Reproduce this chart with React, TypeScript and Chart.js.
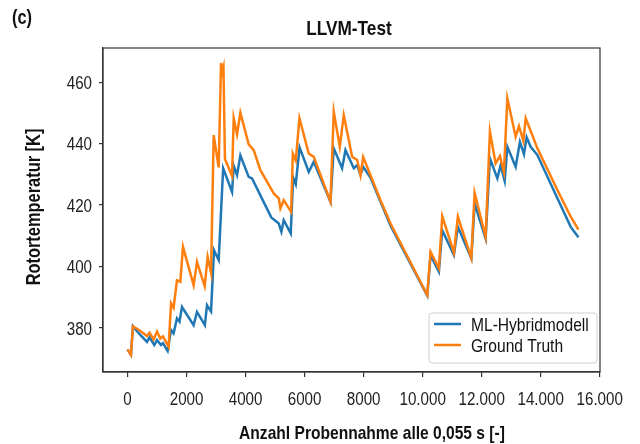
import { useEffect, useRef } from 'react';
import { Chart, registerables } from 'chart.js';

Chart.register(...registerables);

const seriesNames = ['ML-Hybridmodell', 'Ground Truth'];
const seriesColors = ['#1f77b4', '#ff7f0e'];

const mlX = [0, 115, 183, 400, 658, 746, 906, 997, 1133, 1200, 1357, 1473, 1560, 1675, 1760, 1845, 2239, 2353, 2620, 2692, 2829, 2930, 3088, 3240, 3541, 3597, 3710, 3823, 4105, 4219, 4870, 5124, 5214, 5292, 5530, 5611, 5700, 5830, 6140, 6310, 6876, 6988, 7270, 7385, 7667, 7782, 7894, 7985, 8230, 8911, 10156, 10268, 10550, 10665, 11059, 11194, 11649, 11761, 12134, 12280, 12531, 12643, 12779, 12870, 13152, 13297, 13433, 13524, 13660, 13888, 14566, 15017, 15280];
const mlY = [373.0, 371.2, 380.5, 378.0, 375.4, 376.9, 374.4, 376.0, 374.4, 375.0, 372.5, 379.3, 378.2, 383.1, 382.0, 386.8, 380.9, 385.2, 380.9, 387.4, 385.3, 405.3, 402.1, 432.0, 424.3, 432.8, 429.8, 436.2, 429.2, 428.7, 416.0, 414.0, 411.3, 415.1, 410.8, 429.0, 426.8, 438.8, 430.8, 434.1, 421.1, 438.5, 432.0, 437.9, 432.0, 433.0, 429.8, 432.5, 429.0, 413.3, 390.5, 403.7, 398.3, 411.8, 403.7, 412.9, 402.6, 420.5, 409.1, 435.2, 428.7, 433.0, 427.9, 439.0, 432.5, 440.6, 436.6, 442.1, 439.0, 436.3, 422.2, 412.9, 409.5];

const gtX = [0, 115, 183, 400, 658, 746, 882, 1000, 1109, 1200, 1392, 1473, 1560, 1675, 1788, 1878, 2239, 2353, 2613, 2715, 2829, 2919, 3088, 3168, 3210, 3250, 3300, 3541, 3597, 3710, 3823, 4105, 4274, 4502, 4954, 5124, 5180, 5292, 5543, 5600, 5700, 5825, 6140, 6310, 6876, 6988, 7192, 7327, 7612, 7782, 7894, 7985, 8572, 8911, 10156, 10268, 10550, 10665, 11059, 11194, 11649, 11761, 12134, 12280, 12473, 12619, 12755, 12870, 13152, 13263, 13413, 13491, 13684, 13888, 14566, 15017, 15280];
const gtY = [373.0, 371.2, 380.5, 379.2, 377.3, 378.4, 376.2, 378.8, 376.5, 377.2, 373.8, 388.0, 386.5, 395.5, 395.0, 406.4, 393.9, 401.5, 393.6, 403.1, 398.0, 442.8, 432.3, 466.3, 463.5, 465.0, 435.0, 429.5, 448.3, 443.0, 450.1, 439.8, 437.9, 431.4, 423.8, 422.2, 418.9, 421.6, 417.8, 436.8, 434.5, 448.3, 436.8, 435.7, 421.1, 450.4, 439.0, 449.3, 435.7, 434.7, 429.8, 435.7, 421.6, 414.0, 390.7, 404.8, 399.4, 416.4, 404.5, 416.2, 402.8, 424.0, 409.7, 443.9, 433.6, 436.0, 430.8, 454.8, 442.3, 445.7, 440.9, 448.3, 443.6, 438.5, 424.9, 416.2, 412.0];

const xTicks = [0, 2000, 4000, 6000, 8000, 10000, 12000, 14000, 16000];
const xTickLabels = ['0', '2000', '4000', '6000', '8000', '10.000', '12.000', '14.000', '16.000'];
const yTicks = [380, 400, 420, 440, 460];
const yTickLabels = ['380', '400', '420', '440', '460'];

const chartTitle = 'LLVM-Test';
const panelLabel = '(c)';
const xTitle = 'Anzahl Probennahme alle 0,055 s [-]';
const yTitle = 'Rotortemperatur [K]';

const FONT = '"Liberation Sans", Arial, sans-serif';
const NARROW = 0.82;

function narrowText(
  ctx: CanvasRenderingContext2D,
  text: string,
  x: number,
  y: number,
  font: string,
  align: CanvasTextAlign,
  color: string,
  rotate = false
) {
  ctx.save();
  ctx.translate(x, y);
  if (rotate) ctx.rotate(-Math.PI / 2);
  ctx.scale(NARROW, 1);
  ctx.font = font;
  ctx.textAlign = align;
  ctx.textBaseline = 'alphabetic';
  ctx.fillStyle = color;
  ctx.fillText(text, 0, 0);
  ctx.restore();
}

const decorPlugin = {
  id: 'decor',
  afterDatasetsDraw(chart: any) {
    const { ctx, chartArea: a, scales } = chart;
    ctx.save();
    // frame
    ctx.strokeStyle = '#333';
    ctx.lineWidth = 1.2;
    ctx.strokeRect(a.left, a.top, a.right - a.left, a.bottom - a.top);

    // tick labels through the scales
    const xs = scales.x;
    const ys = scales.y;
    xTicks.forEach((v, i) => {
      narrowText(ctx, xTickLabels[i], xs.getPixelForValue(v), a.bottom + 33, `18.5px ${FONT}`, 'center', '#222');
    });
    yTicks.forEach((v, i) => {
      narrowText(ctx, yTickLabels[i], a.left - 11, ys.getPixelForValue(v) + 6.7, `18.5px ${FONT}`, 'right', '#222');
    });

    // titles
    narrowText(ctx, chartTitle, 349, 35, `bold 21px ${FONT}`, 'center', '#111');
    narrowText(ctx, panelLabel, 12, 24, `bold 20px ${FONT}`, 'left', '#111');
    narrowText(ctx, xTitle, 372, 439, `bold 19px ${FONT}`, 'center', '#111');
    narrowText(ctx, yTitle, 40, (a.top + a.bottom) / 2 - 3, `bold 20px ${FONT}`, 'center', '#111', true);

    // legend
    const w = 168, h = 50;
    const lx = a.right - 3 - w, ly = a.bottom - 9 - h;
    ctx.beginPath();
    const r = 3;
    ctx.moveTo(lx + r, ly);
    ctx.lineTo(lx + w - r, ly);
    ctx.quadraticCurveTo(lx + w, ly, lx + w, ly + r);
    ctx.lineTo(lx + w, ly + h - r);
    ctx.quadraticCurveTo(lx + w, ly + h, lx + w - r, ly + h);
    ctx.lineTo(lx + r, ly + h);
    ctx.quadraticCurveTo(lx, ly + h, lx, ly + h - r);
    ctx.lineTo(lx, ly + r);
    ctx.quadraticCurveTo(lx, ly, lx + r, ly);
    ctx.closePath();
    ctx.fillStyle = 'rgba(255,255,255,0.85)';
    ctx.fill();
    ctx.strokeStyle = '#d0d0d0';
    ctx.lineWidth = 1;
    ctx.stroke();

    seriesNames.forEach((name, i) => {
      const yy = ly + 11 + i * 21;
      ctx.strokeStyle = seriesColors[i];
      ctx.lineWidth = 2.5;
      ctx.beginPath();
      ctx.moveTo(lx + 5, yy);
      ctx.lineTo(lx + 32, yy);
      ctx.stroke();
      narrowText(ctx, name, lx + 42, yy + 6.8, `19px ${FONT}`, 'left', '#111');
    });
    ctx.restore();
  },
};

export default function App() {
  const ref = useRef<HTMLCanvasElement>(null);

  useEffect(() => {
    document.body.style.margin = '0';
    const canvas = ref.current;
    if (!canvas) return;
    const mk = (xs: number[], ys: number[]) => xs.map((x, i) => ({ x, y: ys[i] }));
    const chart = new Chart(canvas, {
      type: 'line',
      data: {
        datasets: [
          {
            label: seriesNames[0],
            data: mk(mlX, mlY),
            borderColor: seriesColors[0],
            backgroundColor: seriesColors[0],
            borderWidth: 2.5,
            pointRadius: 0,
            tension: 0,
            order: 1,
          },
          {
            label: seriesNames[1],
            data: mk(gtX, gtY),
            borderColor: seriesColors[1],
            backgroundColor: seriesColors[1],
            borderWidth: 2.5,
            pointRadius: 0,
            tension: 0,
            order: 0,
          },
        ],
      },
      options: {
        responsive: false,
        animation: false,
        devicePixelRatio: 1,
        layout: { padding: { left: 20, top: 48, right: 40, bottom: 0 } },
        plugins: {
          legend: { display: false },
          tooltip: { enabled: false },
          title: { display: false },
        },
        scales: {
          x: {
            type: 'linear',
            min: -832,
            max: 16010,
            afterBuildTicks: (s: any) => {
              s.ticks = xTicks.map((v) => ({ value: v }));
            },
            afterFit: (s: any) => {
              s.height = 72;
            },
            ticks: { display: false },
            grid: { drawOnChartArea: false, drawTicks: true, tickLength: 5, color: '#333', lineWidth: 1.2 },
            border: { display: true, color: '#333', width: 1.2 },
            title: { display: false },
          },
          y: {
            type: 'linear',
            min: 365.6,
            max: 471.2,
            afterBuildTicks: (s: any) => {
              s.ticks = yTicks.map((v) => ({ value: v }));
            },
            afterFit: (s: any) => {
              s.width = 83;
            },
            ticks: { display: false },
            grid: { drawOnChartArea: false, drawTicks: true, tickLength: 4, color: '#333', lineWidth: 1.2 },
            border: { display: true, color: '#333', width: 1.2 },
            title: { display: false },
          },
        },
      } as any,
      plugins: [decorPlugin],
    });
    return () => chart.destroy();
  }, []);

  return (
    <div style={{ width: 640, height: 444, background: '#fff' }}>
      <canvas ref={ref} width={640} height={444} style={{ display: 'block' }} />
    </div>
  );
}
